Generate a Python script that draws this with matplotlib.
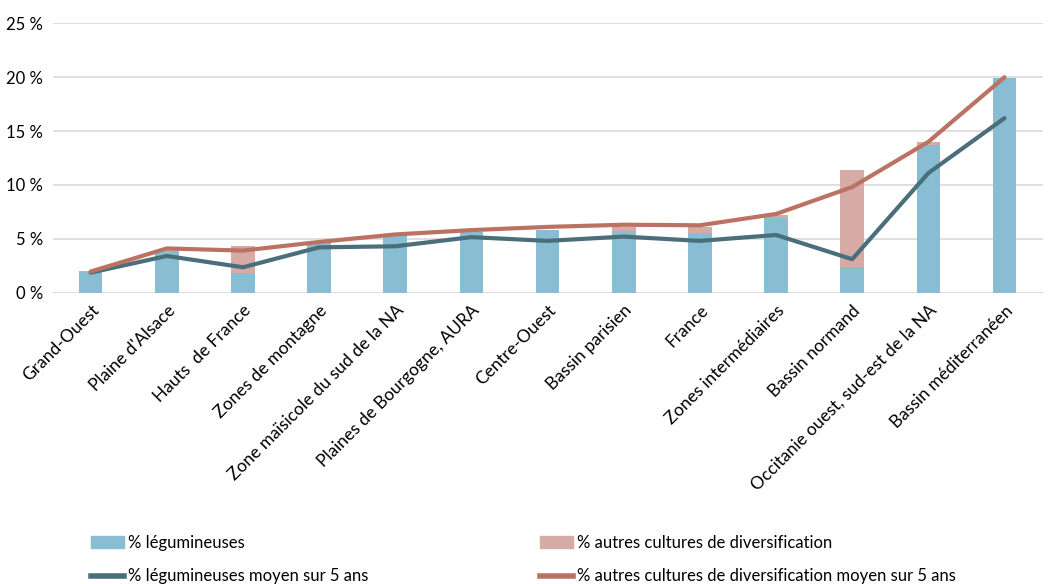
import numpy as np
import matplotlib
matplotlib.use("Agg")
import matplotlib.pyplot as plt
from matplotlib.lines import Line2D
from matplotlib.patches import Patch

plt.rcParams['font.family'] = ['Lato', 'DejaVu Sans']

regions = ["Grand-Ouest", "Plaine d'Alsace", "Hauts  de France", "Zones de montagne",
           "Zone maïsicole du sud de la NA", "Plaines de Bourgogne, AURA", "Centre-Ouest",
           "Bassin parisien", "France", "Zones intermédiaires", "Bassin normand",
           "Occitanie ouest, sud-est de la NA", "Bassin méditerranéen"]

# valeurs en %
legumineuses = [1.9, 3.9, 1.85, 4.6, 5.35, 5.6, 5.8, 5.7, 5.5, 6.9, 2.35, 13.7, 19.95]
autres = [0.1, 0.1, 2.45, 0.1, 0.0, 0.0, 0.0, 0.4, 0.6, 0.3, 9.05, 0.3, 0.0]
leg_moyen = [1.85, 3.4, 2.35, 4.2, 4.3, 5.15, 4.8, 5.2, 4.8, 5.35, 3.1, 11.1, 16.2]
autres_moyen = [1.95, 4.1, 3.9, 4.7, 5.4, 5.8, 6.1, 6.3, 6.25, 7.3, 9.8, 14.0, 20.0]

c_bar1 = '#89BDD3'
c_bar2 = '#D6ABA5'
c_line1 = '#4A6F7A'
c_line2 = '#BC7262'

fig = plt.figure(figsize=(10.51, 5.84), dpi=100)
ax = fig.add_axes([0.05, 0.499, 0.942, 0.461])

x = np.arange(len(regions))
ax.bar(x, legumineuses, width=0.31, color=c_bar1, zorder=2)
ax.bar(x, autres, width=0.31, bottom=legumineuses, color=c_bar2, zorder=2)
ax.plot(x, leg_moyen, color=c_line1, lw=3, solid_capstyle='round', zorder=3)
ax.plot(x, autres_moyen, color=c_line2, lw=3, solid_capstyle='round', zorder=4)

ax.set_xlim(-0.5, len(regions) - 0.5)
ax.set_ylim(0, 25)
ax.set_yticks(range(0, 26, 5))
ax.set_yticklabels([f"{v} %" for v in range(0, 26, 5)], fontsize=12)
ax.set_xticks(x)
ax.set_xticklabels(regions, rotation=45, ha='right', rotation_mode='anchor', fontsize=12.5)
ax.tick_params(axis='both', length=0, pad=7)
ax.grid(axis='y', color='#D9D9D9', lw=1.2, zorder=0)
for s in ax.spines.values():
    s.set_visible(False)

leg_kw = dict(loc='upper left', frameon=False, handlelength=2.0, handletextpad=0.2,
              labelspacing=1.05, borderpad=0, borderaxespad=0, fontsize=12)
fig.legend([Patch(color=c_bar1), Line2D([], [], color=c_line1, lw=4)],
           ["% légumineuses", "% légumineuses moyen sur 5 ans"],
           bbox_to_anchor=(91 / 1051, 1 - 535 / 584), **leg_kw)
fig.legend([Patch(color=c_bar2), Line2D([], [], color=c_line2, lw=4)],
           ["% autres cultures de diversification",
            "% autres cultures de diversification moyen sur 5 ans"],
           bbox_to_anchor=(540 / 1051, 1 - 535 / 584), **leg_kw)

fig.savefig('out.png', dpi=100)
